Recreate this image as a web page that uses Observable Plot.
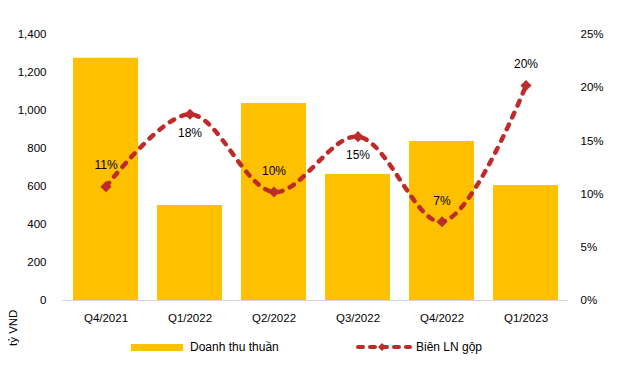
<!DOCTYPE html>
<html>
<head>
<meta charset="utf-8">
<script src="https://cdn.jsdelivr.net/npm/d3@7"></script>
<script src="https://cdn.jsdelivr.net/npm/@observablehq/plot@0.6"></script>
<style>
  html, body { margin: 0; padding: 0; background: #fff; }
  #wrap { position: relative; width: 630px; height: 365px; font-family: Tahoma, "Liberation Sans", Arial, sans-serif; font-size: 11px; color: #000; }
  #ylab { position: absolute; transform: rotate(-90deg); transform-origin: left top; white-space: nowrap; font-size: 11.5px; }
  .leg { position: absolute; top: 340px; display: flex; align-items: center; white-space: nowrap; font-size: 12px; }
</style>
</head>
<body>
<div id="wrap">
  <div id="chart"></div>
  <div id="ylab" style="top:346px;left:7px;">tỷ VND</div>
  <div class="leg" style="left:131px;"><span style="display:inline-block;width:52px;height:7px;background:#FFC000;margin-right:7px;"></span>Doanh thu thuần</div>
  <div class="leg" style="left:355px;"><svg width="58" height="10" style="margin-right:3px"><line x1="3" y1="5" x2="55" y2="5" stroke="#BE2B2B" stroke-width="4" stroke-linecap="round" stroke-dasharray="5,7"/><path d="M27,1 L31,5 L27,9 L23,5 Z" fill="#BE2B2B"/></svg>Biên LN gộp</div>
</div>
<script>
const quarters = ["Q4/2021", "Q1/2022", "Q2/2022", "Q3/2022", "Q4/2022", "Q1/2023"];
const revenue = [1275, 500, 1037, 663, 837, 605];
const margin = [10.7, 17.5, 10.2, 15.4, 7.4, 20.2];
const marginLabels = ["11%", "18%", "10%", "15%", "7%", "20%"];
const leftTicks = [0, 200, 400, 600, 800, 1000, 1200, 1400];
const rightTicks = [0, 5, 10, 15, 20, 25];

const yMax = 1400, pMax = 25;
const toY = p => p * yMax / pMax;

const bars = quarters.map((q, i) => ({q, v: revenue[i]}));
const pts = quarters.map((q, i) => {
  const m = margin[i];
  const isPeak = i > 0 && i < margin.length - 1 && m > margin[i - 1] && m > margin[i + 1];
  return {q, m, y: toY(m), label: marginLabels[i], below: isPeak};
});

const chart = Plot.plot({
  width: 630,
  height: 365,
  marginTop: 34,
  marginBottom: 65,
  marginLeft: 62,
  marginRight: 62,
  style: {fontFamily: 'Tahoma, "Liberation Sans", Arial, sans-serif', fontSize: "11px", color: "#000", background: "#fff"},
  x: {domain: quarters, paddingInner: 0.23, paddingOuter: 0.115},
  y: {domain: [0, yMax]},
  marks: [
    Plot.barY(bars, {x: "q", y: "v", fill: "#FFC000"}),
    Plot.ruleY([0], {stroke: "#d9d9d9", strokeWidth: 1}),
    Plot.axisX({tickSize: 0, tickPadding: 13, label: null, fontSize: 11.5}),
    Plot.axisY({ticks: leftTicks, tickSize: 0, tickPadding: 16, label: null, tickFormat: d3.format(","), fontSize: 11.5}),
    Plot.axisY({anchor: "right", ticks: rightTicks.map(toY), tickSize: 0, tickPadding: 12, label: null, textAnchor: "start", tickFormat: d => Math.round(d * pMax / yMax) + "%", fontSize: 11.5}),
    Plot.line(pts, {x: "q", y: "y", stroke: "#BE2B2B", strokeWidth: 4.5, strokeDasharray: "5,8", strokeLinecap: "round", curve: "catmull-rom"}),
    Plot.dot(pts, {x: "q", y: "y", symbol: "diamond2", r: 5, fill: "#BE2B2B", stroke: "none"}),
    Plot.text(pts.filter(d => !d.below), {x: "q", y: "y", text: "label", dy: -21, fontSize: 12, fill: "#000"}),
    Plot.text(pts.filter(d => d.below), {x: "q", y: "y", text: "label", dy: 19, fontSize: 12, fill: "#000"})
  ]
});
document.getElementById("chart").appendChild(chart);
</script>
</body>
</html>
